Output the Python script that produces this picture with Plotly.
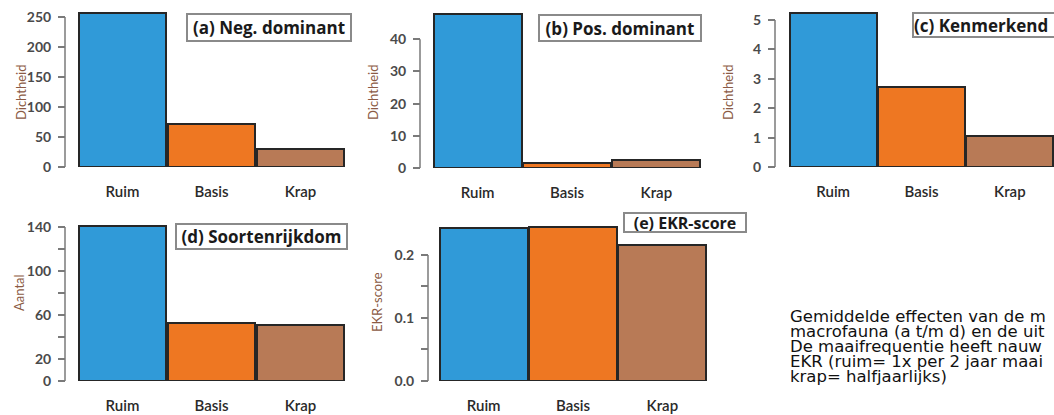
import plotly.graph_objects as go

W, H = 1054, 415

# ---------------- data ----------------
categories = ["Ruim", "Basis", "Krap"]
neg_dominant = [256, 71, 30]
pos_dominant = [47.8, 1.5, 2.4]
kenmerkend = [5.25, 2.72, 1.05]
soortenrijkdom = [140.5, 53, 51]
ekr_score = [0.243, 0.244, 0.216]

ticks_a = [0, 50, 100, 150, 200, 250]
ticks_b = [0, 10, 20, 30, 40]
ticks_c = [0, 1, 2, 3, 4, 5]
ticks_d = [0, 20, 40, 60, 80, 100, 120, 140]
ticklabels_d = ["0", "20", "", "60", "", "100", "", "140"]
ticks_e = [0, 0.05, 0.1, 0.15, 0.2]
ticklabels_e = ["0.0", "", "0.1", "", "0.2"]

titles = ["(a) Neg. dominant", "(b) Pos. dominant", "(c) Kenmerkend",
          "(d) Soortenrijkdom", "(e) EKR-score"]
ytitles = ["Dichtheid", "Dichtheid", "Dichtheid", "Aantal", "EKR-score"]

caption_lines = [
    "Gemiddelde effecten van de m",
    "macrofauna (a t/m d) en de uit",
    "De maaifrequentie heeft nauw",
    "EKR (ruim= 1x per 2 jaar maai",
    "krap= halfjaarlijks)",
]

bar_colors = ["#309AD8", "#EE7722", "#B87A56"]

# ---------------- layout helpers (pixels) ----------------
def fx(px):
    return max(0.0, min(1.0, px / W))

def fy(py):
    return max(0.0, min(1.0, 1 - py / H))

panels = [
    dict(vals=neg_dominant, tv=ticks_a, tt=[str(t) for t in ticks_a], ymax=261.7,
         xd=(78, 345), yd=(167, 10), ax=65, tx=21, ty=93,
         box=(186, 13, 352, 42), anchor="center", fs=17),
    dict(vals=pos_dominant, tv=ticks_b, tt=[str(t) for t in ticks_b], ymax=49.1,
         xd=(433, 701), yd=(168, 10), ax=420, tx=373, ty=93,
         box=(538, 14, 702, 42), anchor="center", fs=17),
    dict(vals=kenmerkend, tv=ticks_c, tt=[str(t) for t in ticks_c], ymax=5.34,
         xd=(789, 1054), yd=(167, 10), ax=775, tx=728, ty=93,
         box=(912, 12, 1070, 38), anchor="left", fs=17),
    dict(vals=soortenrijkdom, tv=ticks_d, tt=ticklabels_d, ymax=142.7,
         xd=(78, 345), yd=(381, 224), ax=65, tx=19, ty=293,
         box=(175, 223, 348, 250), anchor="center", fs=17),
    dict(vals=ekr_score, tv=ticks_e, tt=ticklabels_e, ymax=0.249,
         xd=(439, 707), yd=(381, 224), ax=428, tx=377, ty=302,
         box=(623, 212, 747, 233), anchor="center", fs=16),
]

fig = go.Figure()
annotations = []
shapes = []
layout_axes = {}

for i, p in enumerate(panels):
    n = "" if i == 0 else str(i + 1)
    xa, ya = "x" + n, "y" + n
    fig.add_trace(go.Bar(
        x=categories, y=p["vals"], xaxis=xa, yaxis=ya, width=0.985,
        marker=dict(color=bar_colors, line=dict(color="#262626", width=2)),
        showlegend=False, hoverinfo="x+y",
    ))
    layout_axes["xaxis" + n] = dict(
        domain=[fx(p["xd"][0]), fx(p["xd"][1])], anchor=ya, automargin=False,
        range=[-0.5, 2.5], showline=False, showgrid=False, zeroline=False,
        ticks="", ticklabelstandoff=14,
        tickfont=dict(family="Lato", size=15, color="#2a2a2a", weight=600),
        fixedrange=True,
    )
    layout_axes["yaxis" + n] = dict(
        domain=[fy(p["yd"][0]), fy(p["yd"][1])], anchor="free", automargin=False,
        position=fx(p["ax"]), range=[0, p["ymax"]],
        tickmode="array", tickvals=p["tv"], ticktext=p["tt"],
        ticks="outside", ticklen=7, tickwidth=1.5, tickcolor="#7a7a7a",
        showline=False, showgrid=False, zeroline=False,
        tickfont=dict(family="Lato", size=14, color="#4a4a4a", weight="bold"),
        ticklabelstandoff=4,
        fixedrange=True,
    )
    # R-style axis line spanning first to last tick
    shapes.append(dict(type="line", xref="paper", yref=ya,
                       x0=fx(p["ax"]), x1=fx(p["ax"]),
                       y0=p["tv"][0], y1=p["tv"][-1],
                       line=dict(color="#7a7a7a", width=1.5)))
    # y-axis title
    annotations.append(dict(text=ytitles[i], xref="paper", yref="paper",
                            x=fx(p["tx"]), y=fy(p["ty"]), textangle=-90,
                            showarrow=False, xanchor="center", yanchor="middle",
                            font=dict(family="Lato", size=13, color="#8B5A44")))
    # boxed panel title
    bx0, by0, bx1, by1 = p["box"]
    bw, bh = bx1 - bx0, by1 - by0
    annotations.append(dict(
        text="<b>" + titles[i] + "</b>", xref="paper", yref="paper",
        x=fx(bx0), y=fy(by0), xanchor="left", yanchor="top",
        width=bw - 4, height=bh - 4, align=p["anchor"], valign="middle",
        showarrow=False, bgcolor="white", bordercolor="#8a8a8a",
        borderwidth=2, borderpad=0,
        font=dict(family="Open Sans", size=p["fs"], color="#1a1a1a")))

# caption: one text block; base size sets 15px line pitch, spans set glyph size
caption_text = "<br>".join('<span style="font-size:16.5px">' + s + "</span>"
                           for s in caption_lines)
annotations.append(dict(text=caption_text, xref="paper", yref="paper",
                        x=fx(788), y=fy(346), xanchor="left", yanchor="middle",
                        showarrow=False, align="left",
                        font=dict(family="DejaVu Sans", size=11.54, color="#111111")))

fig.update_layout(
    width=W, height=H, margin=dict(l=0, r=0, t=0, b=0),
    paper_bgcolor="white", plot_bgcolor="white",
    annotations=annotations, shapes=shapes, bargap=0,
    **layout_axes,
)

fig.write_html("out.html", config={"displayModeBar": False},
               post_script="document.body.style.margin='0px';document.body.style.overflow='hidden';")
